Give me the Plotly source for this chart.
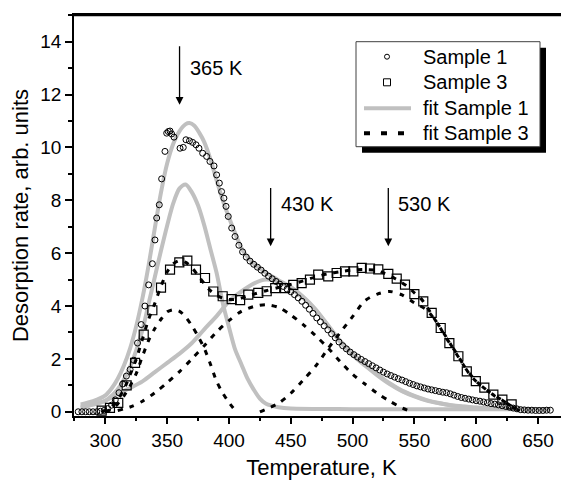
import plotly.graph_objects as go

# ---- Sample 1 (open circles) ----
s1_temp = [278, 281, 284, 287, 290, 293, 296, 299, 302, 305, 308, 311, 314, 317, 320, 323, 326, 329, 332, 335, 338,
           340.1, 341.5, 343.6, 345.5, 348.2, 349.6, 350.9, 352.3, 353.6, 355.5, 360.4, 363.0, 365.2, 368.0, 370.6,
           373.3, 375.7, 378.7, 381.9, 384.6, 387.9, 390.0, 392.2, 394.0, 395.9, 397.6, 399.4, 402.2, 404.9,
           408, 411, 414, 417, 420, 423, 426, 429, 432, 435, 438, 441, 444, 447, 450, 453, 456, 459, 462, 465,
           468, 471, 474, 477, 480, 483, 486, 489, 492, 495, 498, 501, 504, 507, 510, 513, 516, 519, 522, 525,
           528, 531, 534, 537, 540, 543, 546, 549, 552, 555, 558, 561, 564, 567, 570, 573, 576, 579, 582, 585,
           588, 591, 594, 597, 600, 603, 606, 609, 612, 615, 618, 621, 624, 627, 630, 633, 636, 639, 642, 645,
           648, 651, 654, 657, 660]
s1_rate = [0, 0, 0, 0, 0, 0, 0.02, 0.05, 0.12, 0.25, 0.45, 0.72, 1.05, 1.35, 1.6, 1.95, 2.6, 3.3, 4.0, 4.8, 5.6,
           6.5, 7.33, 7.83, 8.81, 9.85, 10.54, 10.6, 10.62, 10.51, 10.39, 9.97, 10.0, 10.29, 10.25, 10.19,
           10.1, 9.97, 9.78, 9.66, 9.47, 9.3, 8.96, 8.65, 8.33, 8.08, 7.77, 7.39, 6.95, 6.63,
           6.3, 6.05, 5.85, 5.7, 5.58, 5.47, 5.36, 5.24, 5.13, 5.03, 4.93, 4.83, 4.74, 4.64, 4.54, 4.43, 4.31, 4.18, 4.03, 3.88,
           3.72, 3.55, 3.4, 3.25, 3.1, 2.95, 2.8, 2.64, 2.5, 2.38, 2.26, 2.16, 2.07, 1.98, 1.9, 1.82, 1.74, 1.66, 1.58, 1.5,
           1.43, 1.37, 1.31, 1.25, 1.2, 1.14, 1.08, 1.03, 0.98, 0.94, 0.9, 0.86, 0.83, 0.8, 0.77, 0.74, 0.72, 0.68, 0.63, 0.58,
           0.54, 0.51, 0.48, 0.45, 0.42, 0.4, 0.37, 0.34, 0.31, 0.29, 0.26, 0.23, 0.2, 0.17, 0.14, 0.11, 0.08, 0.07, 0.06, 0.06,
           0.05, 0.05, 0.05, 0.06, 0.06]

# ---- Sample 3 (open squares) ----
s3_temp = [297.0, 303.7, 310.4, 317.2, 324.0, 331.0, 338.0, 345.0, 352.3, 359.8, 366.3, 373.3, 380.6, 387.3, 394.9,
           402.2, 409.0, 415.6, 423.7, 430.5, 437.4, 445.4, 452.0, 458.8, 465.5, 472.2, 480.3, 487.1, 493.9, 500.6,
           507.4, 514.1, 520.8, 528.9, 535.7, 542.4, 550.0, 557.2, 564.0, 571.3, 578.3, 585.6, 592.4, 599.7, 606.6,
           613.9, 621.2, 628.7]
s3_rate = [0.04, 0.15, 0.34, 1.0, 1.85, 2.92, 3.84, 4.7, 5.38, 5.65, 5.72, 5.38, 5.06, 4.55, 4.37,
           4.26, 4.22, 4.43, 4.5, 4.56, 4.68, 4.68, 4.8, 4.87, 5.0, 5.19, 5.12, 5.25, 5.31, 5.31,
           5.44, 5.42, 5.39, 5.22, 5.04, 4.81, 4.45, 4.18, 3.74, 3.17, 2.6, 2.1, 1.53, 1.16, 0.91,
           0.65, 0.46, 0.28]

# ---- fit Sample 1 (grey) ----
f1_total_t = [280, 290, 300, 305, 310, 315, 320, 325, 330, 335, 340, 345, 350, 355, 360, 365, 368, 372, 376, 380,
              385, 390, 395, 400, 405, 410, 415, 420, 425, 430, 440, 450, 460, 470, 480, 490, 500, 510, 520, 530,
              540, 550, 560, 570, 580, 590, 600, 620, 640, 660]
f1_total_v = [0.28, 0.4, 0.62, 0.88, 1.25, 1.75, 2.4, 3.25, 4.3, 5.55, 6.95, 8.3, 9.4, 10.15, 10.62, 10.88, 10.92, 10.82, 10.55, 10.2,
              9.55, 8.75, 8.0, 7.35, 6.75, 6.2, 5.85, 5.6, 5.42, 5.26, 4.98, 4.72, 4.35, 3.88, 3.28, 2.68, 2.2, 1.8, 1.42, 1.08,
              0.8, 0.6, 0.44, 0.33, 0.25, 0.2, 0.16, 0.12, 0.1, 0.1]
f1_p1_t = [280, 290, 300, 310, 320, 330, 335, 340, 345, 350, 355, 360, 365, 370, 375, 380, 385, 390, 395, 400,
           405, 410, 415, 420, 425, 430, 440, 450, 500, 560, 620, 660]
f1_p1_v = [0.2, 0.28, 0.42, 0.85, 1.7, 3.1, 4.1, 5.1, 6.1, 7.05, 7.9, 8.45, 8.6, 8.3, 7.8, 7.05, 6.15, 5.25, 4.1, 3.2,
           2.35, 1.8, 1.25, 0.84, 0.5, 0.3, 0.17, 0.12, 0.1, 0.1, 0.1, 0.1]
f1_p2_t = [280, 290, 300, 310, 320, 330, 340, 350, 360, 370, 380, 390, 400, 410, 420, 430, 440, 450, 460, 470,
           480, 490, 500, 510, 520, 530, 540, 550, 560, 570, 580, 590, 600, 620, 640, 660]
f1_p2_v = [0.15, 0.27, 0.42, 0.68, 0.9, 1.15, 1.5, 1.85, 2.2, 2.6, 3.12, 3.62, 4.18, 4.55, 4.85, 5.0, 4.92, 4.68, 4.3, 3.85,
           3.25, 2.65, 2.15, 1.75, 1.38, 1.05, 0.78, 0.58, 0.42, 0.32, 0.24, 0.19, 0.15, 0.12, 0.1, 0.1]

# ---- fit Sample 3 (black dots) ----
f3_total_t = [297, 300, 305, 310, 315, 320, 325, 330, 335, 340, 345, 350, 355, 360, 365, 370, 375, 380, 385, 390,
              395, 400, 405, 410, 415, 420, 430, 440, 450, 460, 470, 480, 490, 500, 510, 520, 525, 530, 535, 540,
              545, 550, 555, 560, 565, 570, 575, 580, 585, 590, 595, 600, 605, 610, 615, 620, 625, 630, 635]
f3_total_v = [0.0, 0.05, 0.2, 0.45, 0.85, 1.4, 2.0, 2.75, 3.5, 4.1, 4.75, 5.3, 5.6, 5.72, 5.65, 5.45, 5.15, 4.85, 4.58, 4.4,
              4.3, 4.25, 4.25, 4.3, 4.38, 4.45, 4.58, 4.7, 4.82, 4.95, 5.1, 5.22, 5.3, 5.36, 5.38, 5.35, 5.25, 5.15, 5.02, 4.88,
              4.72, 4.5, 4.3, 3.98, 3.6, 3.25, 2.85, 2.5, 2.15, 1.75, 1.4, 1.15, 0.95, 0.77, 0.6, 0.47, 0.32, 0.17, 0.03]
f3_p1_t = [300, 305, 310, 315, 320, 325, 330, 335, 340, 345, 350, 355, 360, 365, 370, 375, 380, 385, 390, 395, 400, 405]
f3_p1_v = [0.0, 0.1, 0.3, 0.6, 0.98, 1.45, 2.1, 2.7, 3.15, 3.5, 3.78, 3.86, 3.8, 3.58, 3.25, 2.85, 2.4, 1.8, 1.15, 0.7, 0.35, 0.05]
f3_p2_t = [310, 320, 330, 340, 350, 360, 370, 380, 390, 400, 410, 420, 430, 440, 450, 460, 470, 480, 490, 500,
           510, 520, 530, 540, 545]
f3_p2_v = [0.05, 0.18, 0.4, 0.72, 1.1, 1.52, 2.0, 2.5, 3.02, 3.45, 3.8, 3.98, 4.05, 3.95, 3.66, 3.3, 2.88, 2.42, 1.9, 1.42,
           1.05, 0.7, 0.4, 0.15, 0.05]
f3_p3_t = [425, 430, 440, 450, 460, 470, 480, 490, 500, 510, 520, 530, 540, 550, 560, 570, 580, 590, 600, 610,
           620, 630, 635]
f3_p3_v = [0.0, 0.1, 0.32, 0.7, 1.2, 1.72, 2.38, 3.0, 3.6, 4.2, 4.45, 4.55, 4.42, 4.12, 3.85, 3.25, 2.5, 1.75, 1.15, 0.77,
           0.47, 0.17, 0.03]

# peak marks
peak_x = [360, 433.7, 528.9]
peak_lbl = ["365 K", "430 K", "530 K"]
arrow_top = [13.88, 8.52, 8.52]
arrow_tip = [11.61, 6.26, 6.26]
lbl_y = [13.0, 7.87, 7.87]

legend_names = ["Sample 1", "Sample 3", "fit Sample 1", "fit Sample 3"]

FONT = "Arial, Liberation Sans, sans-serif"
GREY = "#c0c0c0"

# plot area in page pixels (page has an 8px body margin)
PX0, PW, PY0, PH = 74, 495, 15, 401


def xp(px):
    return (px - PX0) / PW


def yp(py):
    return 1 - (py - PY0) / PH


fig = go.Figure()

for t, v in [(f1_total_t, f1_total_v), (f1_p1_t, f1_p1_v), (f1_p2_t, f1_p2_v)]:
    fig.add_trace(go.Scatter(x=t, y=v, mode="lines", showlegend=False,
                             line=dict(color=GREY, width=4, shape="spline", smoothing=0.8)))

fig.add_trace(go.Scatter(x=s1_temp, y=s1_rate, mode="markers", showlegend=False,
                         marker=dict(symbol="circle-open", size=6, color="black", line=dict(width=1))))
fig.add_trace(go.Scatter(x=s3_temp, y=s3_rate, mode="markers", showlegend=False,
                         marker=dict(symbol="square-open", size=9, color="black", line=dict(width=1.2))))

for t, v in [(f3_total_t, f3_total_v), (f3_p1_t, f3_p1_v), (f3_p2_t, f3_p2_v), (f3_p3_t, f3_p3_v)]:
    fig.add_trace(go.Scatter(x=t, y=v, mode="lines", showlegend=False,
                             line=dict(color="black", width=3, dash="5px,7px", shape="spline", smoothing=0.8)))

for x, lbl, y0, y1, ly in zip(peak_x, peak_lbl, arrow_top, arrow_tip, lbl_y):
    fig.add_annotation(x=x, y=y1, ax=x, ay=y0, axref="x", ayref="y", text="",
                       showarrow=True, arrowhead=2, arrowsize=1.2, arrowwidth=1.3, arrowcolor="black")
    fig.add_annotation(x=x + 6.5, y=ly, text=lbl, showarrow=False, xanchor="left", yanchor="middle",
                       font=dict(family=FONT, size=20, color="black"))

# top frame line
fig.add_shape(type="line", xref="paper", yref="paper", x0=0, x1=1, y0=yp(15.5), y1=yp(15.5),
              line=dict(color="black", width=1.6), layer="above")

# ---- hand-drawn legend box with drop shadow ----
fig.add_shape(type="rect", xref="paper", yref="paper", x0=xp(362), x1=xp(546), y0=yp(152.7), y1=yp(47.7),
              fillcolor="black", line=dict(width=0), layer="above")
fig.add_shape(type="rect", xref="paper", yref="paper", x0=xp(356), x1=xp(540), y0=yp(146.7), y1=yp(41.7),
              fillcolor="white", line=dict(color="#404040", width=1), layer="above")
rows = [56.7, 82.3, 108.3, 133.3]
sym_x = 387
fig.add_shape(type="circle", xref="paper", yref="paper", xsizemode="pixel", ysizemode="pixel",
              xanchor=xp(sym_x), yanchor=yp(rows[0]), x0=-2.5, x1=2.5, y0=-2.5, y1=2.5,
              line=dict(color="black", width=1), layer="above")
fig.add_shape(type="rect", xref="paper", yref="paper", xsizemode="pixel", ysizemode="pixel",
              xanchor=xp(sym_x), yanchor=yp(rows[1]), x0=-3.5, x1=3.5, y0=-3.5, y1=3.5,
              line=dict(color="black", width=1), layer="above")
fig.add_shape(type="line", xref="paper", yref="paper", x0=xp(364), x1=xp(411), y0=yp(rows[2]), y1=yp(rows[2]),
              line=dict(color=GREY, width=4), layer="above")
fig.add_shape(type="line", xref="paper", yref="paper", x0=xp(364), x1=xp(411), y0=yp(rows[3]), y1=yp(rows[3]),
              line=dict(color="black", width=4, dash="6px,11px"), layer="above")
for name, ry in zip(legend_names, rows):
    fig.add_annotation(xref="paper", yref="paper", x=xp(421), y=yp(ry), text=name, showarrow=False,
                       xanchor="left", yanchor="middle", font=dict(family=FONT, size=20, color="black"))

fig.update_xaxes(range=[274.6, 675.1], tick0=300, dtick=50, ticks="outside", ticklen=6, tickwidth=1.5,
                 tickcolor="black", showline=True, linecolor="black", linewidth=1.6, mirror=True,
                 showgrid=False, zeroline=False, automargin=False,
                 minor=dict(dtick=25, ticks="outside", ticklen=3, tickwidth=1.5, tickcolor="black"),
                 tickfont=dict(family=FONT, size=19, color="black"),
                 title=dict(text="Temperature, K", font=dict(family=FONT, size=22, color="black"), standoff=11))
fig.update_yaxes(range=[-0.16, 15.01], tick0=0, dtick=2, ticks="outside", ticklen=7, tickwidth=1.5,
                 tickcolor="black", showline=True, linecolor="black", linewidth=1.6,
                 showgrid=False, zeroline=False, automargin=False,
                 minor=dict(dtick=1, ticks="outside", ticklen=4, tickwidth=1.5, tickcolor="black"),
                 tickfont=dict(family=FONT, size=19, color="black"),
                 title=dict(text="Desorption rate, arb. units", font=dict(family=FONT, size=22, color="black"),
                            standoff=6))

fig.update_layout(
    width=561, height=472,
    margin=dict(l=66, r=0, t=7, b=64, autoexpand=False),
    plot_bgcolor="white", paper_bgcolor="white",
    showlegend=False,
)

fig.write_html("out.html")
